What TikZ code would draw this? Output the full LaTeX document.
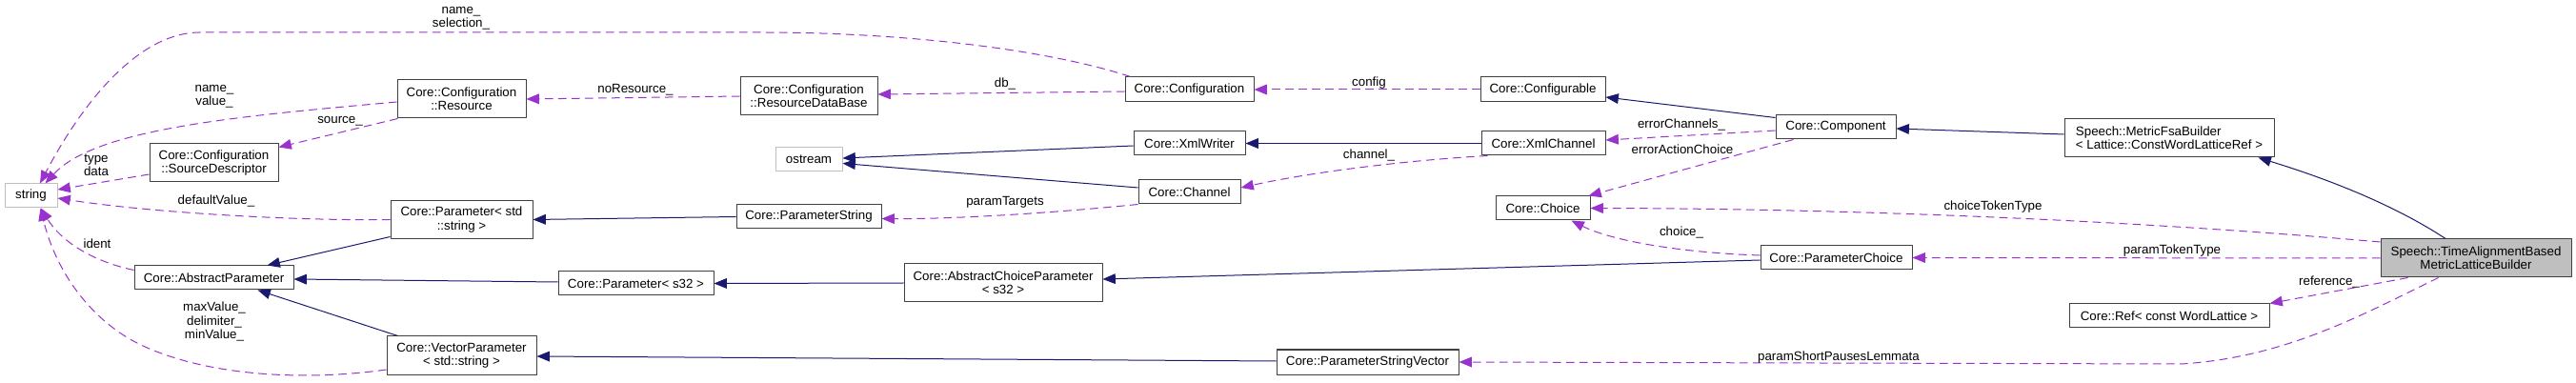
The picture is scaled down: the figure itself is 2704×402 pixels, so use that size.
\documentclass[tikz,border=0pt]{standalone}
\usepackage{fontspec}
\setmainfont{Liberation Sans}
\usetikzlibrary{arrows.meta,calc}
\definecolor{midblue}{HTML}{191970}
\definecolor{orchid}{HTML}{9A32CD}
\definecolor{boxline}{HTML}{404040}
\definecolor{extline}{HTML}{BFBFBF}
\begin{document}
\begin{tikzpicture}[x=0.75pt, y=-0.75pt, line join=round,
    font=\fontsize{10}{10.7}\selectfont,
    cls/.style={draw=boxline, line width=0.75pt, fill=white, inner sep=0pt, align=center, minimum height=18.75pt},
    ext/.style={cls, draw=extline},
    lbl/.style={inner sep=0pt, align=center},
    inh/.style={draw=midblue, line width=0.75pt, -{Triangle[length=10pt,width=8pt]}},
    use/.style={draw=orchid, line width=0.75pt, dash pattern=on 6.5pt off 4pt, -{Triangle[length=10pt,width=8pt]}}]
    \useasboundingbox (0,0) rectangle (2704,402);

    \node[ext, minimum width=41.25pt] (str) at (32.5,205.5) {string};
    \node[cls, minimum width=101.25pt, minimum height=30pt] (srcd) at (224.5,171) {Core::Configuration\\::SourceDescriptor};
    \node[cls, minimum width=125.25pt] (absp) at (224.5,291.5) {Core::AbstractParameter};
    \node[cls, minimum width=101.25pt, minimum height=30pt] (res) at (484.5,104) {Core::Configuration\\::Resource};
    \node[cls, minimum width=111.75pt, minimum height=30pt] (pstr) at (484.5,230.5) {Core::Parameter< std\\::string >};
    \node[cls, minimum width=117.75pt, minimum height=30pt] (vecp) at (484.5,373) {Core::VectorParameter\\< std::string >};
    \node[cls, minimum width=122.25pt] (ps32) at (667.5,297.5) {Core::Parameter< s32 >};
    \node[cls, minimum width=108pt, minimum height=30pt] (rdb) at (849,101) {Core::Configuration\\::ResourceDataBase};
    \node[ext, minimum width=52.5pt] (ost) at (849,167.5) {ostream};
    \node[cls, minimum width=114pt] (pstring) at (849,227.5) {Core::ParameterString};
    \node[cls, minimum width=156pt, minimum height=30pt] (acp) at (1053,297) {Core::AbstractChoiceParameter\\< s32 >};
    \node[cls, minimum width=101.25pt, minimum height=19.5pt] (conf) at (1248.5,94) {Core::Configuration};
    \node[cls, minimum width=87.75pt] (xmlw) at (1248.5,150.5) {Core::XmlWriter};
    \node[cls, minimum width=80.25pt] (chan) at (1248.5,201.5) {Core::Channel};
    \node[cls, minimum width=143.25pt, minimum height=19.5pt] (psv) at (1435.5,380) {Core::ParameterStringVector};
    \node[cls, minimum width=98.25pt, minimum height=19.5pt] (cfgb) at (1619.5,94) {Core::Configurable};
    \node[cls, minimum width=97.5pt] (xmlc) at (1620,150.5) {Core::XmlChannel};
    \node[cls, minimum width=74.25pt] (choice) at (1619.5,218.5) {Core::Choice};
    \node[cls, minimum width=94.5pt] (comp) at (1927,133.5) {Core::Component};
    \node[cls, minimum width=119.25pt] (pch) at (1927.5,270.5) {Core::ParameterChoice};
    \node[cls, minimum width=165pt, minimum height=30pt, align=left] (mfsa) at (2277,145) {Speech::MetricFsaBuilder\\< Lattice::ConstWordLatticeRef >};
    \node[cls, minimum width=157.5pt] (ref) at (2277,331.5) {Core::Ref< const WordLattice >};
    \node[cls, minimum width=150pt, minimum height=30pt, fill=extline] (tab) at (2599,271) {Speech::TimeAlignmentBased\\MetricLatticeBuilder};

    \draw[inh] ($(xmlw.west)+(0,2.5)$) -- ($(ost.east)+(0,-1.5)$);
    \draw[inh] ($(chan.west)+(0,-4.5)$) -- ($(ost.east)+(0,4)$);
    \draw[inh] (xmlc.west) -- (xmlw.east);
    \draw[inh] (pstring.west) -- (pstr.east);
    \draw[inh] ($(pstr.south west)+(0,-2.5)$) -- ($(absp.north)+(56,0)$);
    \draw[inh] ($(ps32.west)+(0,-1.5)$) -- ($(absp.east)+(0,1.5)$);
    \draw[inh] ($(vecp.north west)+(12,0)$) -- ($(absp.south)+(46,0)$);
    \draw[inh] (acp.west) -- (ps32.east);
    \draw[inh] ($(pch.west)+(0,2.5)$) -- ($(acp.east)+(0,-4)$);
    \draw[inh] ($(psv.west)+(0,-1)$) -- ($(vecp.east)+(0,1)$);
    \draw[inh] ($(comp.north west)+(0,3)$) -- ($(cfgb.east)+(0,8)$);
    \draw[inh] ($(mfsa.west)+(0,-4)$) -- ($(comp.east)+(0,1.5)$);
    \draw[inh] ($(tab.north)+(-32,0)$) .. controls (2530,226) and (2470,196) .. ($(mfsa.south east)+(-17,0)$);

    \draw[use] ($(conf.north west)+(6,0)$) .. controls (1100,52) and (950,34) .. (800,34) -- (210,34) .. controls (140,34) and (80,120) .. ($(str.north)+(9.5,0)$);
    \draw[use] ($(res.west)+(0,3)$) .. controls (250,122) and (100,135) .. ($(str.north)+(15,0)$);
    \draw[use] ($(res.south west)+(1,0)$) -- ($(srcd.north east)+(0,4)$);
    \draw[use] ($(srcd.west)+(0,12)$) -- ($(str.east)+(0,-6.5)$);
    \draw[use] (pstr.west) .. controls (300,232) and (150,222) .. ($(str.east)+(0,2.5)$);
    \draw[use] ($(absp.north west)+(0,5)$) .. controls (100,275) and (65,255) .. ($(str.south)+(10.5,0)$);
    \draw[use] ($(vecp.west)+(0,15)$) .. controls (320,400) and (220,395) .. (150,363) .. controls (100,340) and (60,290) .. ($(str.south)+(10,0)$);
    \draw[use] (rdb.west) -- (res.east);
    \draw[use] ($(conf.west)+(0,2)$) -- ($(rdb.east)+(0,-2)$);
    \draw[use] (cfgb.west) -- (conf.east);
    \draw[use] ($(xmlc.south west)+(7,0)$) .. controls (1480,168) and (1380,180) .. ($(chan.east)+(0,-4.5)$);
    \draw[use] (chan.south west) .. controls (1100,224) and (1000,230) .. ($(pstring.east)+(0,2)$);
    \draw[use] ($(comp.west)+(0,3.5)$) -- ($(xmlc.east)+(0,-3.5)$);
    \draw[use] ($(comp.south west)+(19,0)$) -- ($(choice.north east)+(-2,0)$);
    \draw[use] ($(pch.west)+(0,-2.5)$) .. controls (1760,265) and (1690,252) .. ($(choice.south)+(30,0)$);
    \draw[use] ($(tab.west)+(0,-17)$) .. controls (2250,232) and (1950,219) .. (choice.east);
    \draw[use] (tab.west) -- (pch.east);
    \draw[use] ($(tab.south west)+(29,0)$) -- (ref.north east);
    \draw[use] ($(tab.south west)+(61,0)$) .. controls (2480,330) and (2400,375) .. (2290,382) -- (psv.east);

    \node[lbl] (lnamesel) at (484,19.5) {name\_\\selection\_};
    \node[lbl] (lnameval) at (225,101) {name\_\\value\_};
    \node[lbl] (lsource) at (357,127) {source\_};
    \node[lbl] (ltype) at (101,173.5) {type\\data};
    \node[lbl] (ldefault) at (227,211) {defaultValue\_};
    \node[lbl] (lident) at (102,256) {ident};
    \node[lbl] (lmax) at (225,337.5) {maxValue\_\\delimiter\_\\minValue\_};
    \node[lbl] (lnores) at (667,94) {noResource\_};
    \node[lbl] (ldb) at (1055,88) {db\_};
    \node[lbl] (lconfig) at (1437,87) {config};
    \node[lbl] (lchannel) at (1437,163) {channel\_};
    \node[lbl] (lparamt) at (1055,212) {paramTargets};
    \node[lbl] (lerrch) at (1765,131) {errorChannels\_};
    \node[lbl] (lerract) at (1766,157) {errorActionChoice};
    \node[lbl] (lchoice) at (1765,244) {choice\_};
    \node[lbl] (lchtok) at (2092,217) {choiceTokenType};
    \node[lbl] (lpartok) at (2280,263) {paramTokenType};
    \node[lbl] (lref) at (2445,296) {reference\_};
    \node[lbl] (lshort) at (1930,375) {paramShortPausesLemmata};
\end{tikzpicture}
\end{document}
